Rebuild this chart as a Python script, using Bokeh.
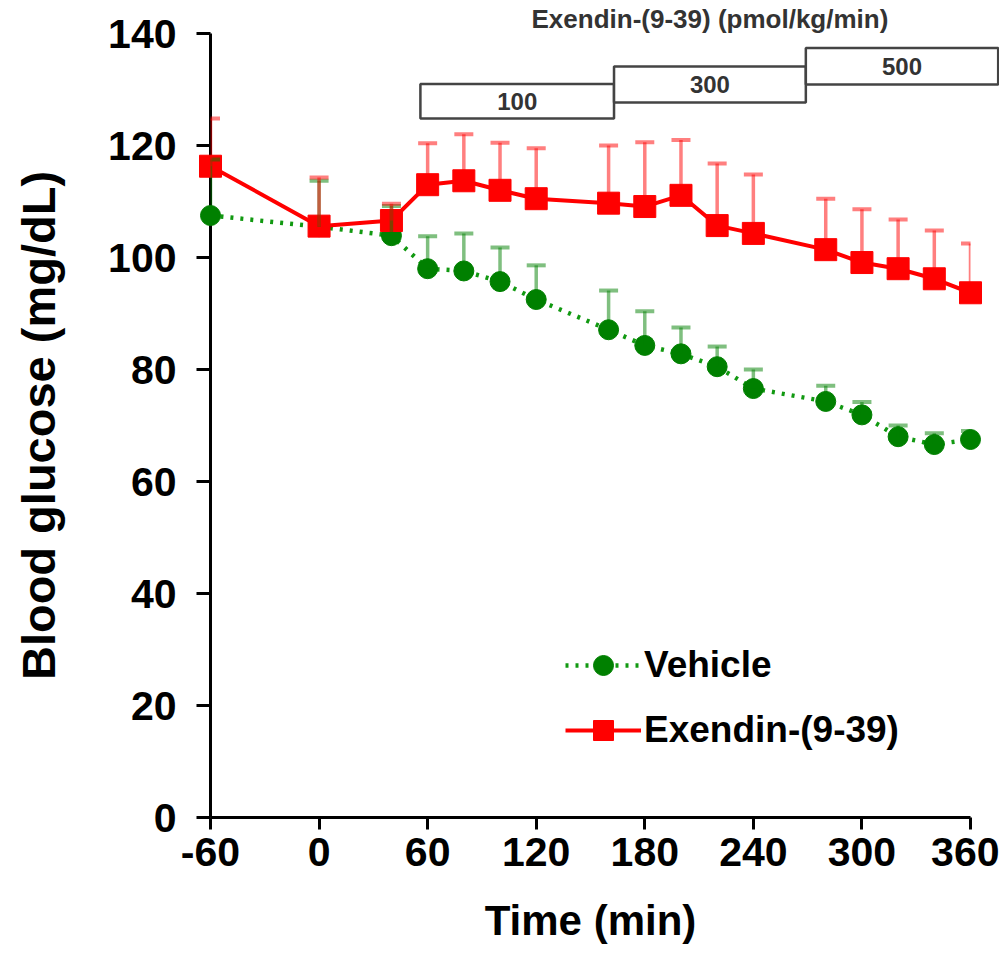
from bokeh.plotting import figure
from bokeh.models import Range1d, FixedTicker, Whisker, TeeHead, ColumnDataSource, Legend, LegendItem
from bokeh.core.properties import value
from bokeh.embed import file_html
from bokeh.resources import INLINE

# ---- data ----
time_min = [-60, 0, 40, 60, 80, 100, 120, 160, 180, 200, 220, 240, 280, 300, 320, 340, 360]
vehicle_mean = [107.5, 105.5, 103.9, 98.0, 97.6, 95.7, 92.5, 87.1, 84.3, 82.8, 80.5, 76.6, 74.3, 71.9, 68.0, 66.6, 67.5]
vehicle_sem = [10.0, 8.2, 5.3, 5.8, 6.7, 6.1, 6.1, 7.0, 6.1, 4.7, 3.6, 3.4, 2.8, 2.3, 2.0, 2.0, 1.5]
exendin_mean = [116.3, 105.6, 106.6, 113.0, 113.7, 112.0, 110.5, 109.7, 109.1, 111.1, 105.7, 104.3, 101.4, 99.1, 98.0, 96.2, 93.7]
exendin_sem = [8.5, 8.7, 3.0, 7.4, 8.3, 8.5, 9.0, 10.3, 11.5, 9.9, 11.1, 10.5, 9.1, 9.5, 8.8, 8.6, 8.8]

x_ticks = [-60, 0, 60, 120, 180, 240, 300, 360]
y_ticks = [0, 20, 40, 60, 80, 100, 120, 140]

dose_labels = ["100", "300", "500"]
dose_start = [56, 163, 269]
dose_end = [163, 269, 375.3]
dose_bottom = [124.8, 127.7, 130.9]
dose_top = [131.0, 134.1, 137.4]
dose_title = "Exendin-(9-39) (pmol/kg/min)"

FONT = "Liberation Sans"

veh = ColumnDataSource(dict(t=time_min, m=vehicle_mean,
                            up=[m + s for m, s in zip(vehicle_mean, vehicle_sem)]))
exe = ColumnDataSource(dict(t=time_min, m=exendin_mean,
                            up=[m + s for m, s in zip(exendin_mean, exendin_sem)]))

p = figure(width=999, height=956, output_backend="svg", toolbar_location=None,
           x_range=Range1d(-60, 360), y_range=Range1d(0, 140),
           min_border_left=210, min_border_right=29, min_border_top=33, min_border_bottom=139)
p.xgrid.visible = False
p.ygrid.visible = False
p.outline_line_color = None
p.background_fill_color = "white"

# axes
for ax in (p.xaxis[0], p.yaxis[0]):
    ax.axis_line_width = 3
    ax.axis_line_color = "black"
    ax.major_tick_line_width = 3
    ax.major_tick_line_color = "black"
    ax.minor_tick_line_color = None
    ax.major_tick_in = 0
    ax.major_label_text_font = FONT
    ax.major_label_text_font_style = "bold"
    ax.major_label_text_font_size = "41px"
    ax.major_label_text_color = "black"
    ax.axis_label_text_font = FONT
    ax.axis_label_text_font_style = "bold"
    ax.axis_label_text_color = "black"

p.xaxis.ticker = FixedTicker(ticks=x_ticks)
p.xaxis.major_label_overrides = {-60: "-60"}
p.xaxis.major_tick_out = 12
p.xaxis.major_label_standoff = 8
p.xaxis.axis_label = "Time (min)"
p.xaxis.axis_label_text_font_size = "42px"
p.xaxis.axis_label_standoff = 28

p.yaxis.ticker = FixedTicker(ticks=y_ticks)
p.yaxis.major_tick_out = 14
p.yaxis.major_label_standoff = 20
p.yaxis.axis_label = "Blood glucose (mg/dL)"
p.yaxis.axis_label_text_font_size = "47px"
p.yaxis.axis_label_standoff = 40

# dose boxes (drawn above the frame, unclipped)
p.quad(left=dose_start, right=dose_end, bottom=dose_bottom, top=dose_top,
       fill_color="white", line_color="#444444", line_width=2.5, level="annotation")
p.text(x=[(a + b) / 2 for a, b in zip(dose_start, dose_end)],
       y=[(a + b) / 2 for a, b in zip(dose_bottom, dose_top)],
       text=dose_labels, text_font=value(FONT), text_font_style="bold",
       text_font_size="24px", text_align="center", text_baseline="middle",
       text_color="#333333", level="annotation")
p.text(x=[216], y=[142.6], text=[dose_title], text_font=value(FONT),
       text_font_style="bold", text_font_size="26px", text_align="center",
       text_baseline="middle", text_color="#333333", level="annotation")

# lines
gl = p.line("t", "m", source=veh, line_color="#119911", line_width=4.5, line_dash="3 7")
rl = p.line("t", "m", source=exe, line_color="red", line_width=4)

# error bars (upper only)
wv = Whisker(source=veh, base="t", lower="m", upper="up", dimension="height",
             line_color="green", line_alpha=0.5, line_width=3.5, level="annotation",
             upper_head=TeeHead(size=19, line_color="green", line_alpha=0.5, line_width=4),
             lower_head=None)
we = Whisker(source=exe, base="t", lower="m", upper="up", dimension="height",
             line_color="red", line_alpha=0.5, line_width=3.5, level="annotation",
             upper_head=TeeHead(size=19, line_color="red", line_alpha=0.5, line_width=4),
             lower_head=None)
p.add_layout(wv)
p.add_layout(we)

gs = p.scatter("t", "m", source=veh, marker="circle", size=20, fill_color="green",
               line_color="green", level="annotation")
rs = p.scatter("t", "m", source=exe, marker="square", size=22, fill_color="red",
               line_color="red", level="annotation")

legend = Legend(items=[LegendItem(label="Vehicle", renderers=[gl, gs]),
                       LegendItem(label="Exendin-(9-39)", renderers=[rl, rs])],
                location=(355, 62), border_line_color=None, background_fill_alpha=0,
                label_text_font=FONT, label_text_font_style="bold", label_text_font_size="37px",
                label_text_color="black",
                glyph_width=76, glyph_height=50, label_standoff=3, spacing=15,
                padding=0, margin=0)
p.add_layout(legend)

open("out.html", "w").write(file_html(p, INLINE))
